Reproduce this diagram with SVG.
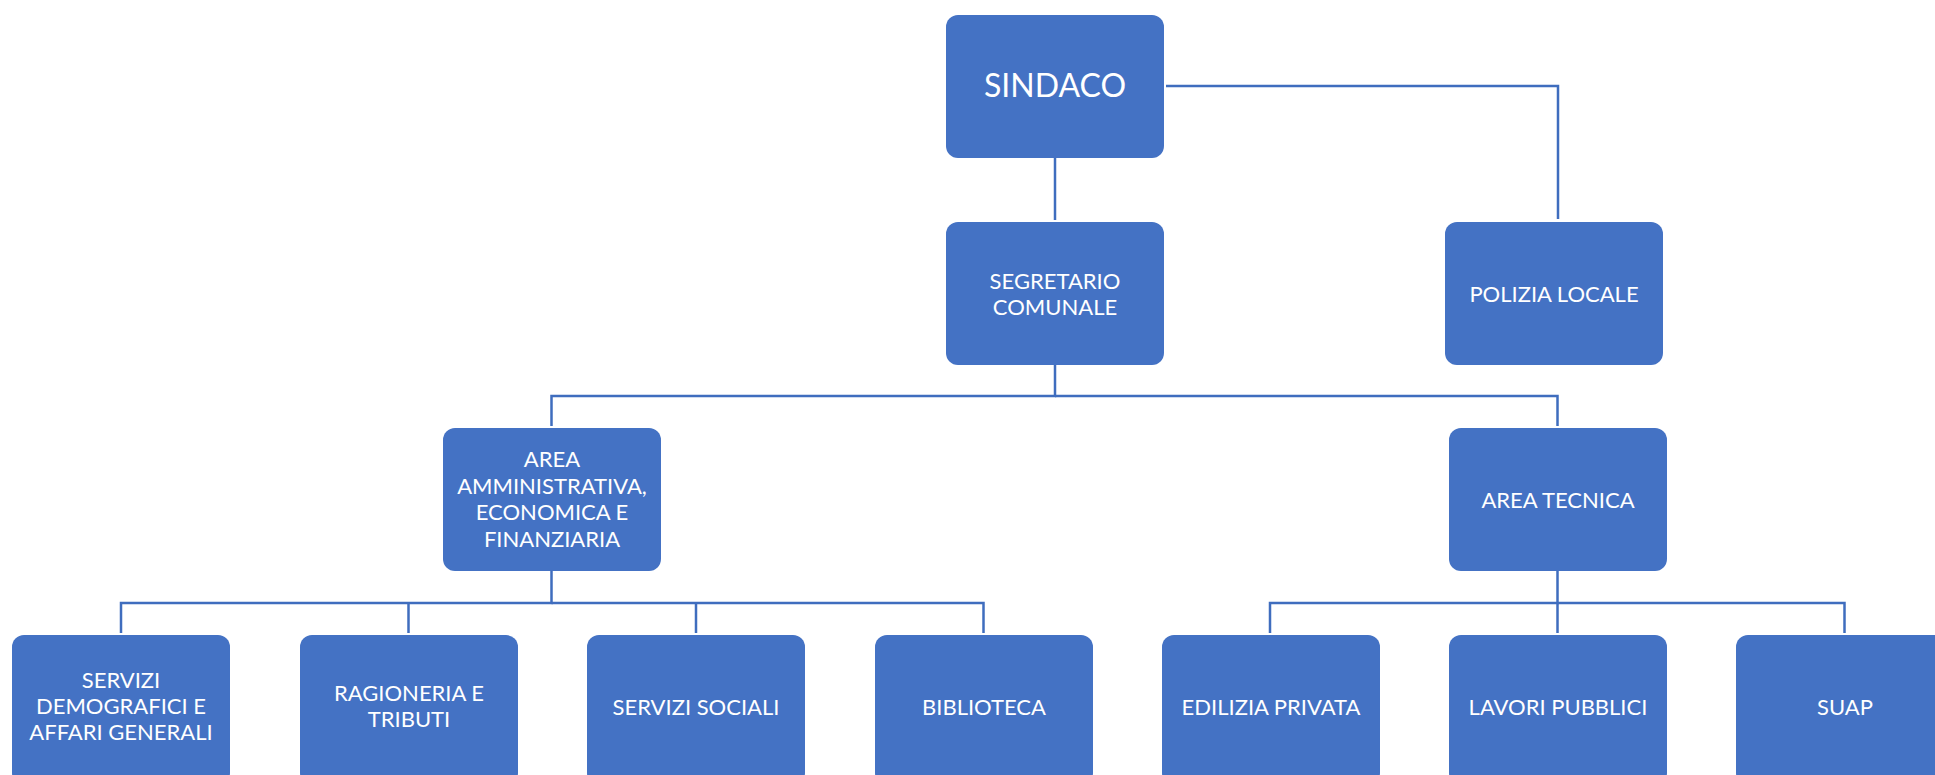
<svg xmlns="http://www.w3.org/2000/svg" width="1935" height="775" viewBox="0 0 1935 775">
<style>
.box{fill:#4472C4;}
.t{fill:#FFFFFF;font-family:Lato,"Open Sans","Liberation Sans",sans-serif;font-size:22px;text-anchor:middle;}
.big{font-size:32px;}
.c{fill:none;stroke:#3F6DBE;stroke-width:2.5;}
</style>
<rect width="1935" height="775" fill="#FFFFFF"/>
<g id="connectors">
<path class="c" d="M1055 158 V220"/>
<path class="c" d="M1166 86 H1558 V219"/>
<path class="c" d="M1055 365 V396 H551.5 V426"/>
<path class="c" d="M1055 396 H1557.5 V426"/>
<path class="c" d="M551.5 571 V603 H121 V633"/>
<path class="c" d="M551.5 603 H983.5 V633"/>
<path class="c" d="M408.5 603 V633"/>
<path class="c" d="M696 603 V633"/>
<path class="c" d="M1557.5 571 V603 H1270 V633"/>
<path class="c" d="M1557.5 603 V633"/>
<path class="c" d="M1557.5 603 H1844.5 V633"/>
</g>
<g id="sindaco">
<rect class="box" x="946" y="15" width="218" height="143" rx="12"/>
<text class="t big" x="1055" y="97">SINDACO</text>
</g>
<g id="segretario">
<rect class="box" x="946" y="222" width="218" height="143" rx="12"/>
<text class="t" x="1055" y="288.5">SEGRETARIO</text>
<text class="t" x="1055" y="314.5">COMUNALE</text>
</g>
<g id="polizia">
<rect class="box" x="1445" y="222" width="218" height="143" rx="12"/>
<text class="t" x="1554" y="301.5">POLIZIA LOCALE</text>
</g>
<g id="area-amministrativa">
<rect class="box" x="443" y="428" width="218" height="143" rx="12"/>
<text class="t" x="552" y="467">AREA</text>
<text class="t" x="552" y="493.5">AMMINISTRATIVA,</text>
<text class="t" x="552" y="520">ECONOMICA E</text>
<text class="t" x="552" y="546.5">FINANZIARIA</text>
</g>
<g id="area-tecnica">
<rect class="box" x="1449" y="428" width="218" height="143" rx="12"/>
<text class="t" x="1558" y="507.5">AREA TECNICA</text>
</g>
<g id="servizi-demografici">
<rect class="box" x="12" y="635" width="218" height="150" rx="12"/>
<text class="t" x="121" y="688">SERVIZI</text>
<text class="t" x="121" y="714">DEMOGRAFICI E</text>
<text class="t" x="121" y="740">AFFARI GENERALI</text>
</g>
<g id="ragioneria">
<rect class="box" x="300" y="635" width="218" height="150" rx="12"/>
<text class="t" x="409" y="700.5">RAGIONERIA E</text>
<text class="t" x="409" y="727">TRIBUTI</text>
</g>
<g id="servizi-sociali">
<rect class="box" x="587" y="635" width="218" height="150" rx="12"/>
<text class="t" x="696" y="714.5">SERVIZI SOCIALI</text>
</g>
<g id="biblioteca">
<rect class="box" x="875" y="635" width="218" height="150" rx="12"/>
<text class="t" x="984" y="714.5">BIBLIOTECA</text>
</g>
<g id="edilizia-privata">
<rect class="box" x="1162" y="635" width="218" height="150" rx="12"/>
<text class="t" x="1271" y="714.5">EDILIZIA PRIVATA</text>
</g>
<g id="lavori-pubblici">
<rect class="box" x="1449" y="635" width="218" height="150" rx="12"/>
<text class="t" x="1558" y="714.5">LAVORI PUBBLICI</text>
</g>
<g id="suap">
<rect class="box" x="1736" y="635" width="218" height="150" rx="12"/>
<text class="t" x="1845" y="714.5">SUAP</text>
</g>
</svg>
